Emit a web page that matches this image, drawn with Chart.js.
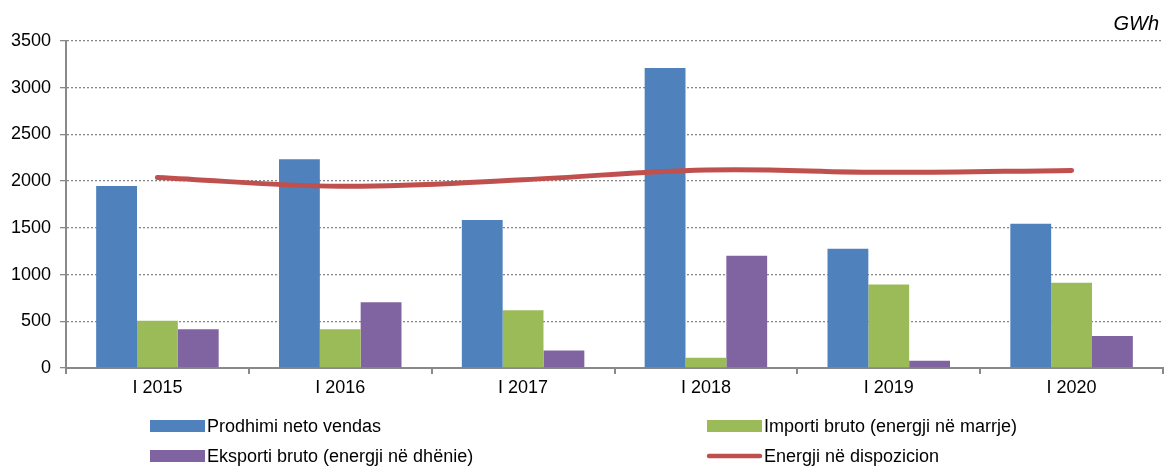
<!DOCTYPE html>
<html><head><meta charset="utf-8">
<script src="https://cdn.jsdelivr.net/npm/chart.js@4/dist/chart.umd.min.js"></script>
<style>html,body{margin:0;padding:0;background:#fff}#wrap{width:1164px;height:468px;position:relative}</style>
</head><body><div id="wrap"><canvas id="c" width="1164" height="468"></canvas></div>
<script>
const categories = ["I 2015","I 2016","I 2017","I 2018","I 2019","I 2020"];
const prodhimi = [1948, 2234, 1584, 3211, 1277, 1545];
const importi = [506, 415, 617, 111, 895, 913];
const eksporti = [414, 703, 186, 1202, 78, 343];
const energji = [2040, 1946, 2015, 2120, 2094, 2115];
const seriesNames = ["Prodhimi neto vendas","Importi bruto (energji në marrje)","Eksporti bruto (energji në dhënie)","Energji në dispozicion"];
const yTicks = [0,500,1000,1500,2000,2500,3000,3500];
const unitLabel = "GWh";

const FONT = "'Liberation Sans', Arial, sans-serif";
const legendPlugin = {
  id: 'customLegend',
  afterDraw(chart){
    const ctx = chart.ctx;
    const pos = [[150,426],[707,426],[150,456],[707,456]];
    ctx.save();
    ctx.font = "18px " + FONT;
    ctx.textBaseline = 'middle';
    chart.data.datasets.forEach((ds,i)=>{
      const [x,y] = pos[i];
      if (ds.type === 'line') {
        ctx.strokeStyle = ds.borderColor; ctx.lineWidth = 4.5; ctx.lineCap='round';
        ctx.beginPath(); ctx.moveTo(x+2,y); ctx.lineTo(x+53,y); ctx.stroke();
      } else {
        ctx.fillStyle = ds.backgroundColor; ctx.fillRect(x, y-6, 55, 12);
      }
      ctx.fillStyle = '#000';
      ctx.fillText(ds.label, x+57, y+1);
    });
    ctx.font = "italic 20px " + FONT;
    ctx.textAlign = 'right';
    ctx.fillText(unitLabel, 1159, 24);
    ctx.restore();
  }
};

new Chart(document.getElementById('c'), {
  data: {
    labels: categories,
    datasets: [
      {type:'bar', label: seriesNames[0], data: prodhimi, backgroundColor:'#4F81BD', order:1},
      {type:'bar', label: seriesNames[1], data: importi, backgroundColor:'#9BBB59', order:1},
      {type:'bar', label: seriesNames[2], data: eksporti, backgroundColor:'#8064A2', order:1},
      {type:'line', label: seriesNames[3], data: energji, borderColor:'#C0504D', borderWidth:5, pointRadius:0, tension:0.4, order:0, borderCapStyle:'round'}
    ]
  },
  options: {
    responsive:false, animation:false,
    layout:{padding:{left:0,right:1,top:41,bottom:70}},
    datasets:{bar:{categoryPercentage:0.67, barPercentage:1}},
    plugins:{legend:{display:false}, tooltip:{enabled:false}},
    scales:{
      x:{
        grid:{drawOnChartArea:false, drawTicks:true, tickLength:6, color:'#898989', lineWidth:2, offset:true},
        border:{color:'#898989', width:2},
        ticks:{color:'#000', font:{family:FONT, size:18}, padding:3},
        afterFit(s){ s.height = 30; }
      },
      y:{
        min:0, max:3500,
        afterBuildTicks(s){ s.ticks = yTicks.map(v=>({value:v})); },
        grid:{color:'#888888', lineWidth:1.3, tickLength:6, tickBorderDash:[0,0], tickColor:'#898989'},
        border:{color:'#898989', width:2, dash:[2,2]},
        ticks:{color:'#000', font:{family:FONT, size:18}, padding:9, callback:(v)=>String(v)},
        afterFit(s){ s.width = 66; }
      }
    }
  },
  plugins:[legendPlugin]
});
</script></body></html>
